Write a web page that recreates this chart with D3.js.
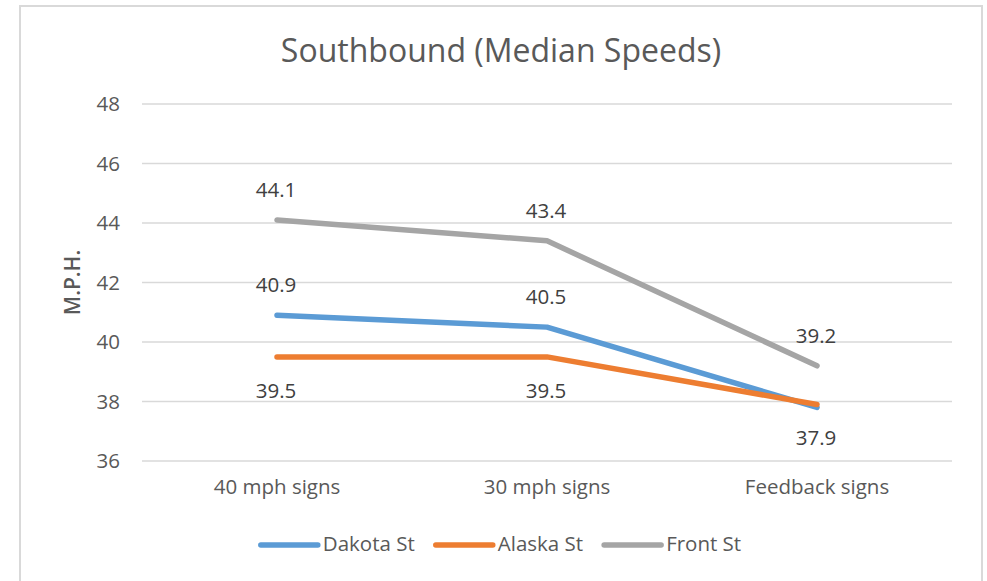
<!DOCTYPE html>
<html><head><meta charset="utf-8">
<script src="https://cdn.jsdelivr.net/npm/d3@7"></script>
<style>
body{margin:0;background:#fff;}
text{font-family:"Open Sans","Noto Sans",sans-serif;}
</style></head>
<body><svg id="c" width="987" height="581"></svg>
<script>
const categories = ["40 mph signs", "30 mph signs", "Feedback signs"];
const seriesNames = ["Dakota St", "Alaska St", "Front St"];
const dakota = [40.9, 40.5, 37.8];
const alaska = [39.5, 39.5, 37.9];
const front = [44.1, 43.4, 39.2];
const yTicks = [36, 38, 40, 42, 44, 46, 48];
const colors = ["#5B9BD5", "#ED7D31", "#A5A5A5"];
// label placement per series: "above" / "below", null = not shown
const dakotaLabels = ["above", "above", null];
const alaskaLabels = ["below", "below", "below"];
const frontLabels = ["above", "above", "above"];

const series = [
  {name: seriesNames[0], values: dakota, labels: dakotaLabels, color: colors[0]},
  {name: seriesNames[1], values: alaska, labels: alaskaLabels, color: colors[1]},
  {name: seriesNames[2], values: front, labels: frontLabels, color: colors[2]}
];

const FS = 20.5;
const svg = d3.select("#c");
svg.append("rect").attr("x", 20).attr("y", 6).attr("width", 962).attr("height", 600)
  .attr("fill", "#fff").attr("stroke", "#d9d9d9").attr("stroke-width", 2);

const pL = 142, pR = 952, pT = 104, pB = 461;
const x = d3.scaleBand().domain(categories).range([pL, pR]);
const y = d3.scaleLinear().domain([36, 48]).range([pB, pT]);

svg.append("text").attr("x", 501).attr("y", 62).attr("text-anchor", "middle")
  .attr("font-size", 32).attr("fill", "#595959").text("Southbound (Median Speeds)");

svg.append("g").selectAll("line").data(yTicks).join("line")
  .attr("x1", pL).attr("x2", pR)
  .attr("y1", d => y(d)).attr("y2", d => y(d))
  .attr("stroke", "#d9d9d9").attr("stroke-width", 1.5);

const yAxis = svg.append("g").attr("transform", `translate(${pL},0)`)
  .call(d3.axisLeft(y).tickValues(yTicks).tickSize(0).tickPadding(22));
yAxis.select(".domain").remove();
yAxis.selectAll("text").attr("font-size", FS).attr("fill", "#595959")
  .attr("font-family", "'Open Sans',sans-serif");

svg.append("text").attr("transform", `translate(80,${(pT + pB) / 2}) rotate(-90)`)
  .attr("text-anchor", "middle").attr("font-size", 21).attr("font-weight", 600)
  .attr("fill", "#595959").text("M.P.H.");

const xAxis = svg.append("g").attr("transform", `translate(0,${pB})`)
  .call(d3.axisBottom(x).tickSize(0).tickPadding(18));
xAxis.select(".domain").remove();
xAxis.selectAll("text").attr("font-size", FS).attr("fill", "#595959")
  .attr("font-family", "'Open Sans',sans-serif");

const cx = d => x(d) + x.bandwidth() / 2;
const line = d3.line().x((d, i) => cx(categories[i])).y(d => y(d));

series.forEach(s => {
  svg.append("path").datum(s.values).attr("d", line)
    .attr("fill", "none").attr("stroke", s.color).attr("stroke-width", 5.5)
    .attr("stroke-linecap", "round").attr("stroke-linejoin", "round");
});

series.forEach(s => {
  svg.append("g").selectAll("text").data(s.values.map((v, i) => ({v, i, pos: s.labels[i]})).filter(d => d.pos))
    .join("text")
    .attr("x", d => cx(categories[d.i]) - 1)
    .attr("y", d => y(d.v) + (d.pos === "above" ? -23 : 41))
    .attr("text-anchor", "middle").attr("font-size", FS).attr("fill", "#404040")
    .text(d => d.v.toFixed(1));
});

// legend, centred under chart
const lg = svg.append("g");
const lineW = 57, gapT = 5, gapItem = 21;
const items = series.map(s => {
  const g = lg.append("g");
  g.append("line").attr("x1", 0).attr("x2", lineW)
    .attr("y1", 545).attr("y2", 545).attr("stroke", s.color).attr("stroke-width", 5.5)
    .attr("stroke-linecap", "round");
  const t = g.append("text").attr("x", lineW + gapT).attr("y", 551)
    .attr("font-size", FS).attr("fill", "#595959").text(s.name);
  return {g, w: lineW + gapT + t.node().getComputedTextLength()};
});
const total = d3.sum(items, d => d.w) + gapItem * (items.length - 1);
let lx = 501 - total / 2;
items.forEach(it => { it.g.attr("transform", `translate(${lx},0)`); lx += it.w + gapItem; });
</script></body></html>
